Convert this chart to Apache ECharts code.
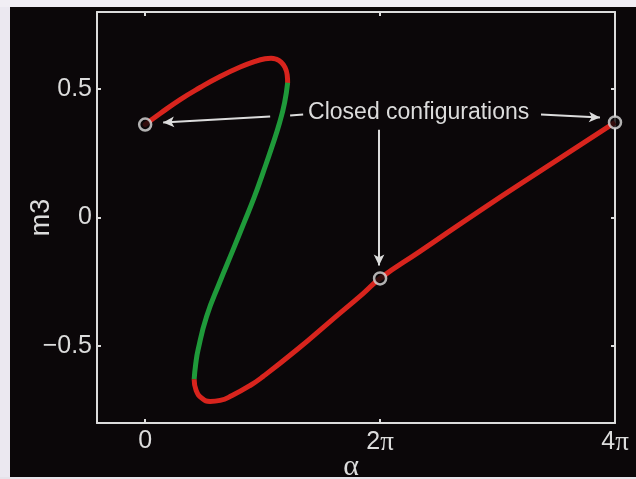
<!DOCTYPE html>
<html>
<head>
<meta charset="utf-8">
<script src="https://cdn.jsdelivr.net/npm/echarts@6/dist/echarts.min.js"></script>
<style>html,body{margin:0;padding:0;background:#0b0709;}#c{width:636px;height:479px;}</style>
</head>
<body>
<div id="c"></div>
<script>
// alpha values are in units of pi
const upperRedX = [0, 0.128, 0.298, 0.468, 0.638, 0.809, 0.936, 1.021, 1.072, 1.111, 1.157, 1.191, 1.209, 1.213];
const upperRedY = [0.362, 0.405, 0.459, 0.506, 0.549, 0.586, 0.608, 0.618, 0.620, 0.617, 0.605, 0.584, 0.556, 0.525];
const greenX = [1.213, 1.187, 1.145, 1.077, 1.004, 0.928, 0.843, 0.749, 0.634, 0.523, 0.451, 0.430, 0.417];
const greenY = [0.525, 0.447, 0.370, 0.272, 0.175, 0.078, -0.019, -0.125, -0.253, -0.385, -0.514, -0.572, -0.630];
const lowerRedX = [0.417, 0.434, 0.485, 0.553, 0.638, 0.740, 0.894, 1.004, 1.294, 1.574, 1.855, 2.000, 2.340, 2.851, 3.421, 4.000];
const lowerRedY = [-0.630, -0.673, -0.704, -0.716, -0.712, -0.693, -0.654, -0.619, -0.514, -0.405, -0.296, -0.237, -0.132, 0.027, 0.198, 0.370];
const closedX = [0, 2, 4];
const closedY = [0.362, -0.237, 0.370];
const xTicks = [0, 2, 4];
const yTicks = [-0.5, 0, 0.5];
const annotationText = 'Closed configurations';

const zip = (xs, ys) => xs.map((x, i) => [x, ys[i]]);
const fg = '#dcdcdc';
const sans = '"Liberation Sans", Arial, Helvetica, sans-serif';
const serif = '"Liberation Serif", "Times New Roman", serif';

const chart = echarts.init(document.getElementById('c'), null, {renderer: 'canvas'});

const baseX = {
  type: 'value', min: -0.41, max: 4,
  axisLine: {show: true, onZero: false, lineStyle: {color: fg, width: 2}},
  axisTick: {show: true, inside: true, length: 4, customValues: xTicks, lineStyle: {color: fg, width: 2}},
  splitLine: {show: false}
};
const baseY = {
  type: 'value', min: -0.8, max: 0.8,
  axisLine: {show: true, onZero: false, lineStyle: {color: fg, width: 2}},
  axisTick: {show: true, inside: true, length: 4, customValues: yTicks, lineStyle: {color: fg, width: 2}},
  splitLine: {show: false}
};

chart.setOption({
  animation: false,
  backgroundColor: '#0b0709',
  graphic: [
    {type: 'rect', shape: {x: 0, y: 0, width: 10, height: 479}, style: {fill: '#ebe8f0'}},
    {type: 'rect', shape: {x: 0, y: 0, width: 636, height: 7}, style: {fill: '#f1eef4'}},
    {type: 'rect', shape: {x: 0, y: 477, width: 636, height: 2}, style: {fill: '#e6e3ea'}}
  ],
  grid: {left: 97, top: 12, right: 21, bottom: 56, show: false, containLabel: false, outerBoundsMode: 'none'},
  xAxis: [
    Object.assign({}, baseX, {
      position: 'bottom',
      name: 'α', nameLocation: 'middle', nameGap: 29, nameMoveOverlap: false,
      nameTextStyle: {color: fg, fontSize: 30, fontFamily: serif, padding: [0, 10, 0, 0]},
      axisLabel: {
        show: true, customValues: xTicks, margin: 6, color: fg,
        formatter: v => v === 0 ? '{n|0}' : '{n|' + v + '}{p|π}',
        rich: {
          n: {fontSize: 25, fontFamily: sans, color: fg},
          p: {fontSize: 27, fontFamily: serif, color: fg}
        }
      }
    }),
    Object.assign({}, baseX, {position: 'top', axisLabel: {show: false}})
  ],
  yAxis: [
    Object.assign({}, baseY, {
      position: 'left',
      name: 'm3', nameLocation: 'middle', nameGap: 42, nameRotate: 90, nameMoveOverlap: false,
      nameTextStyle: {color: fg, fontSize: 27, fontFamily: sans},
      axisLabel: {
        show: true, customValues: yTicks, margin: 5, color: fg, fontSize: 25, fontFamily: sans,
        formatter: v => v < 0 ? '\u2212' + Math.abs(v) : String(v)
      }
    }),
    Object.assign({}, baseY, {position: 'right', axisLabel: {show: false}})
  ],
  series: [
    {type: 'line', name: 'upper', data: zip(upperRedX, upperRedY), smooth: 0.5, showSymbol: false,
     lineStyle: {color: '#d8241d', width: 5, cap: 'round'}, z: 3},
    {type: 'line', name: 'green', data: zip(greenX, greenY), smooth: 0.5, showSymbol: false,
     lineStyle: {color: '#1f9a3a', width: 5}, z: 3},
    {type: 'line', name: 'lower', data: zip(lowerRedX, lowerRedY), smooth: 0.5, showSymbol: false,
     lineStyle: {color: '#d8241d', width: 5}, z: 3},
    {type: 'scatter', name: 'closed', data: zip(closedX, closedY), symbol: 'circle', symbolSize: 12,
     itemStyle: {color: '#0b0709', borderColor: fg, borderWidth: 2.5}, z: 5,
     markLine: {
       silent: true, animation: false,
       symbol: ['none', 'arrow'], symbolSize: [8, 11],
       label: {show: false},
       lineStyle: {color: fg, width: 2, type: 'solid'},
       data: [
         [{coord: [1.064, 0.393]}, {coord: [0.153, 0.370]}],
         [{coord: [1.234, 0.397], symbol: 'none'}, {coord: [1.345, 0.401], symbol: 'none'}],
         [{coord: [3.370, 0.401]}, {coord: [3.872, 0.389]}],
         [{coord: [1.991, 0.342]}, {coord: [1.991, -0.187]}]
       ]
     },
     markPoint: {
       silent: true, animation: false,
       symbol: 'circle', symbolSize: 0,
       data: [{coord: [1.387, 0.409], value: 0}],
       label: {show: true, position: 'right', distance: 0, formatter: annotationText,
               color: fg, fontSize: 23, fontFamily: sans}
     }
    }
  ]
});
</script>
</body>
</html>
